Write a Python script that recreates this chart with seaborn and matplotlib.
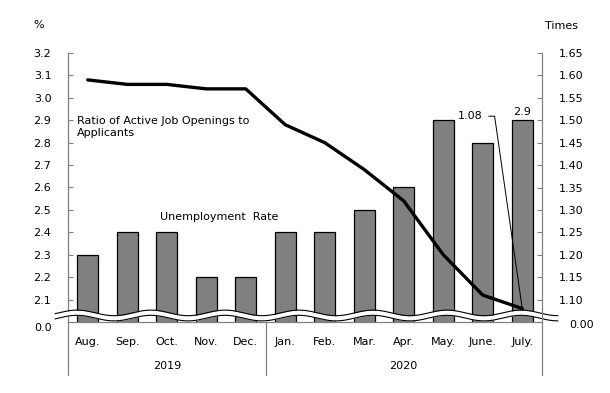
import numpy as np
import pandas as pd
import seaborn as sns
import matplotlib.pyplot as plt
from matplotlib.transforms import blended_transform_factory

# data
months = ['Aug.', 'Sep.', 'Oct.', 'Nov.', 'Dec.', 'Jan.', 'Feb.', 'Mar.',
          'Apr.', 'May.', 'June.', 'July.']
years = ['2019', '2020']
year_span = [(0, 4), (5, 11)]
unemployment = [2.3, 2.4, 2.4, 2.2, 2.2, 2.4, 2.4, 2.5, 2.6, 2.9, 2.8, 2.9]
job_ratio = [1.59, 1.58, 1.58, 1.57, 1.57, 1.49, 1.45, 1.39, 1.32, 1.20, 1.11, 1.08]
left_ticks = [2.1, 2.2, 2.3, 2.4, 2.5, 2.6, 2.7, 2.8, 2.9, 3.0, 3.1, 3.2]
right_ticks = [1.10, 1.15, 1.20, 1.25, 1.30, 1.35, 1.40, 1.45, 1.50, 1.55, 1.60, 1.65]

df = pd.DataFrame({'month': months, 'rate': unemployment, 'ratio': job_ratio})
df['pos'] = range(len(df))

sns.set_style('white')
plt.rcParams['font.family'] = ['DejaVu Sans']
plt.rcParams['text.color'] = 'black'
plt.rcParams['xtick.color'] = 'black'
plt.rcParams['ytick.color'] = 'black'
plt.rcParams['axes.labelcolor'] = 'black'
W, H = 610, 393
fig = plt.figure(figsize=(W / 100, H / 100), dpi=100)
ax = fig.add_axes([68 / W, 1 - 322 / H, 474 / W, 269 / H])

grey = '#808080'
sns.barplot(data=df, x='month', y='rate', color=grey, edgecolor='black',
            linewidth=0.9, width=0.54, saturation=1, ax=ax)
ax.set_xlim(-0.5, 11.5)
ax.set_ylim(2.0, 3.2)
ax.set_yticks(left_ticks)
ax.set_yticklabels([f'{v:.1f}' for v in left_ticks])
ax.set_xlabel('')
ax.set_ylabel('')

ax2 = ax.twinx()
sns.lineplot(data=df, x='pos', y='ratio', color='black', linewidth=2.4, ax=ax2)
ax2.set_ylim(1.05, 1.65)
ax2.set_yticks(right_ticks)
ax2.set_yticklabels([f'{v:.2f}' for v in right_ticks])
ax2.set_xlim(-0.5, 11.5)
ax2.set_ylabel('')

for a in (ax, ax2):
    a.spines['top'].set_visible(False)
    for s in ('left', 'right', 'bottom'):
        a.spines[s].set_color(grey)
        a.spines[s].set_linewidth(0.9)
ax2.spines['bottom'].set_visible(False)
ax.spines['right'].set_visible(False)
ax2.spines['left'].set_visible(False)

ax.tick_params(axis='y', direction='in', length=3.5, color=grey, labelcolor='black',
               labelsize=8, pad=12)
ax2.tick_params(axis='y', direction='in', length=3.5, color=grey, labelcolor='black',
                labelsize=8, pad=12)
ax.tick_params(axis='x', length=0, labelsize=8, labelcolor='black', pad=11)

# zero labels under the axis break
ax.text(-0.034, -0.022, '0.0', transform=ax.transAxes, ha='right', va='center', fontsize=8)
ax2.text(1.057, -0.012, '0.00', transform=ax2.transAxes, ha='left', va='center', fontsize=8)

# axis break (wavy band)
xs = np.linspace(-13 / 474, 1 + 16 / 474, 400)
px = xs * 474 + 68
wave = (315.5 - 2.8 * np.cos(2 * np.pi * (px - 77) / 74))
yc = (322 - wave) / 269
half = 2.6 / 269
ax.fill_between(xs, yc - half, yc + half, color='white', transform=ax.transAxes,
                clip_on=False, zorder=5, linewidth=0)
ax.plot(xs, yc + half, color='black', lw=0.8, transform=ax.transAxes, clip_on=False, zorder=6)
ax.plot(xs, yc - half, color='black', lw=0.8, transform=ax.transAxes, clip_on=False, zorder=6)

# year grouping under month labels
tr = blended_transform_factory(ax.transData, ax.transAxes)
low = -(375 - 322) / 269
for xv in (-0.5, 4.5, 11.5):
    ax.plot([xv, xv], [0, low], color=grey, lw=0.9, transform=tr, clip_on=False)
for yr, (a, b) in zip(years, year_span):
    ax.text((a + b) / 2, -(366 - 322) / 269, yr, transform=tr, ha='center', va='center', fontsize=8)

# series labels
ax.text(-0.27, 2.87, 'Ratio of Active Job Openings to\nApplicants', fontsize=8,
        ha='left', va='center', linespacing=1.3)
ax.text(3.33, 2.47, 'Unemployment  Rate', fontsize=8, ha='center', va='center')
ax.text(11, 2.915, f'{unemployment[-1]}', fontsize=8, ha='center', va='bottom')

# annotation for last ratio value
ax2.text(9.68, 1.509, f'{job_ratio[-1]:.2f}', fontsize=8, ha='center', va='center')
ax2.plot([10.15, 10.3, 11], [1.509, 1.509, job_ratio[-1]], color='black', lw=0.7)

fig.text(33 / W, 1 - 25 / H, '%', fontsize=8, ha='left', va='center')
fig.text(545 / W, 1 - 26 / H, 'Times', fontsize=8, ha='left', va='center')

fig.savefig('out.png', dpi=100)
